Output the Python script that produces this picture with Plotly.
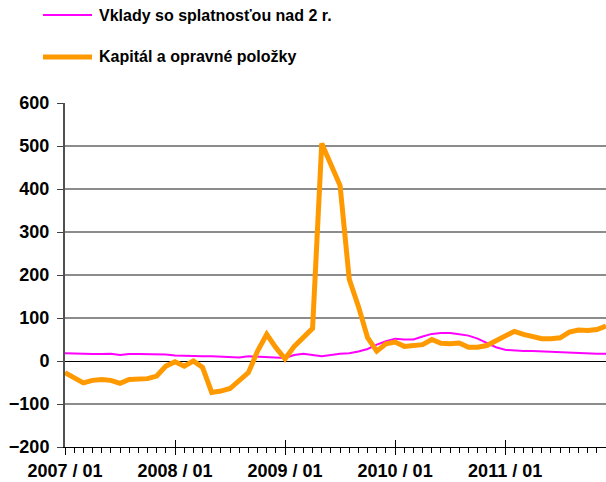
import plotly.graph_objects as go

# ---- data ----
months = list(range(60))  # 2007/01 .. 2011/12
tick_positions = [0, 12, 24, 36, 48]
tick_labels = ["2007 / 01", "2008 / 01", "2009 / 01", "2010 / 01", "2011 / 01"]

series_names = ["Vklady so splatnosťou nad 2 r.", "Kapitál a opravné položky"]

vklady = [18, 17, 17, 16, 16, 17, 14, 16, 16, 16, 16, 15,
          13, 12, 12, 11, 11, 10, 8, 8, 11, 10, 9, 8,
          7, 14, 17, 14, 11, 14, 17, 18, 22, 28, 38, 46,
          52, 50, 50, 57, 63, 65, 65, 62, 59, 52, 42, 32,
          26, 24, 23, 23, 22, 22, 21, 20, 19, 18, 17, 17]

kapital = [-27, -40, -51, -45, -43, -45, -52, -43, -41, -41, -35, -12,
           -2, -12, 0, -15, -73, -70, -64, -47, -27, 23, 62, 31,
           5, 34, 54, 76, 506, 455, 408, 190, 127, 54, 23, 40,
           44, 34, 36, 38, 50, 41, 40, 42, 32, 32, 36, 46,
           59, 69, 62, 58, 52, 52, 54, 67, 72, 71, 73, 81]

y_range = [-200, 600]

# ---- layout geometry (pixels) ----
W, H = 606, 482
L, R, T, B = 65, 0, 103, 35
PW, PH = W - L - R, H - T - B

def px_x(x):
    return (x - L) / PW

def px_y(y):
    return (H - B - y) / PH

MAGENTA = "#FF00FF"
ORANGE = "#FF9900"
FONT = "Liberation Sans, Arial, sans-serif"

fig = go.Figure()
fig.add_trace(go.Scatter(x=months, y=vklady, mode="lines", name=series_names[0],
                         line=dict(color=MAGENTA, width=2), showlegend=False))
fig.add_trace(go.Scatter(x=months, y=kapital, mode="lines", name=series_names[1],
                         line=dict(color=ORANGE, width=5, shape="linear"), showlegend=False))
# invisible trace to activate overlay axis for crossing major ticks
fig.add_trace(go.Scatter(x=[months[0]], y=[y_range[0]], xaxis="x2", mode="markers",
                         marker=dict(opacity=0), showlegend=False, hoverinfo="skip"))

fig.update_layout(
    width=W, height=H,
    margin=dict(l=L, r=R, t=T, b=B, autoexpand=False),
    paper_bgcolor="white", plot_bgcolor="white",
    font=dict(family=FONT, color="black"),
    xaxis=dict(
        range=[months[0], months[-1]],
        tickvals=tick_positions, ticktext=tick_labels,
        ticks="outside", ticklen=7, tickwidth=1, tickcolor="black",
        minor=dict(dtick=1, tick0=0, ticks="outside", ticklen=5, tickwidth=1, tickcolor="black"),
        showline=True, linecolor="black", linewidth=1,
        showgrid=False, zeroline=False,
        tickfont=dict(size=18, family=FONT, weight="bold", color="black"),
    ),
    xaxis2=dict(
        overlaying="x", matches="x", anchor="y", side="bottom",
        tickvals=tick_positions, showticklabels=False,
        ticks="inside", ticklen=7, tickwidth=1, tickcolor="black",
        showgrid=False, zeroline=False, showline=False,
    ),
    yaxis=dict(
        range=y_range, dtick=100, tick0=0,
        ticks="outside", ticklen=6, tickwidth=1, tickcolor="#404040",
        showline=True, linecolor="#505050", linewidth=2,
        showgrid=True, gridcolor="#8c8c8c", gridwidth=1.5,
        zeroline=True, zerolinecolor="black", zerolinewidth=1,
        tickfont=dict(size=18, family=FONT, weight="bold", color="black"),
        ticklabelstandoff=4,
    ),
)

# manual legend
legend_rows = [(15, MAGENTA, 2), (57, ORANGE, 5)]
for (ypix, col, w), name in zip(legend_rows, series_names):
    fig.add_shape(type="line", xref="paper", yref="paper",
                  x0=px_x(43), x1=px_x(92), y0=px_y(ypix), y1=px_y(ypix),
                  line=dict(color=col, width=w))
    fig.add_annotation(xref="paper", yref="paper", x=px_x(97), y=px_y(ypix),
                       xanchor="left", yanchor="middle", showarrow=False,
                       text=name, font=dict(size=16, family=FONT, weight="bold", color="black"))

fig.write_html("out.html", config={"displayModeBar": False},
               post_script="document.body.style.margin='0';document.body.style.overflow='hidden';")
